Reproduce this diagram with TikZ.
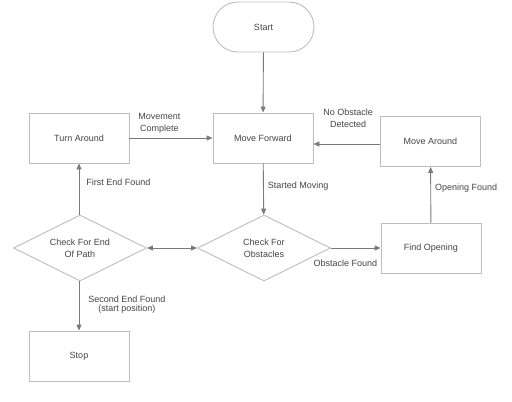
\documentclass[tikz,border=0pt]{standalone}
\usepackage{fontspec}
\setmainfont{Liberation Sans}
\usetikzlibrary{shapes.geometric,arrows.meta}
\definecolor{boxline}{HTML}{BDBDBD}
\definecolor{arrline}{HTML}{7A7A7A}
\definecolor{txt}{HTML}{444444}
\begin{document}
\begin{tikzpicture}[x=1pt,y=-1pt,
  every node/.style={text=txt, font=\fontsize{9}{12}\selectfont},
  box/.style={draw=boxline, line width=0.9pt, rectangle, minimum width=100pt, minimum height=50pt, inner sep=0pt},
  term/.style={draw=boxline, line width=0.9pt, rectangle, rounded corners=25pt, minimum width=101pt, minimum height=50pt, inner sep=0pt},
  decision/.style={draw=boxline, line width=0.9pt, diamond, aspect=2, minimum width=133pt, minimum height=66pt, inner sep=0pt, align=center},
  arr/.style={draw=arrline, line width=0.9pt, -{Triangle[length=6pt,width=5pt]}},
  darr/.style={draw=arrline, line width=0.9pt, {Triangle[length=6pt,width=5pt]}-{Triangle[length=6pt,width=5pt]}},
  lbl/.style={align=center, inner sep=1pt}
]
\useasboundingbox (0,0) rectangle (512,402);
\node[term] (start) at (263.5,27) {Start};
\node[box] (mf) at (263,138) {Move Forward};
\node[box] (turn) at (79,138) {Turn Around};
\node[box] (ma) at (430.5,141.5) {Move Around};
\node[decision] (cfo) at (264,248) {Check For\\Obstacles};
\node[decision] (cfe) at (80,248) {Check For End\\Of Path};
\node[box] (fo) at (431,248) {Find Opening};
\node[box] (stop) at (79,356) {Stop};

\draw[arr] (start) -- (mf);
\draw[arr] (turn) -- node[lbl, pos=0.36, above, yshift=3pt] {Movement\\Complete} (mf);
\draw[arr] (ma.west |- 0,144) -- node[lbl, pos=0.48, above, yshift=15pt] {No Obstacle\\Detected} (mf.east |- 0,144);
\draw[arr] (mf) -- node[lbl, pos=0.45, right, xshift=3pt] {Started Moving} (cfo);
\draw[arr] (cfo) -- node[lbl, pos=0.29, below, yshift=-11pt] {Obstacle Found} (fo);
\draw[arr] (fo) -- node[lbl, pos=0.61, right, xshift=3pt] {Opening Found} (ma);
\draw[darr] (cfe) -- (cfo);
\draw[arr] (cfe.north -| turn) -- node[lbl, pos=0.63, right, xshift=6pt] {First End Found} (turn);
\draw[arr] (cfe.south -| stop) -- node[lbl, pos=0.44, right, xshift=8pt, yshift=-2pt, font=\fontsize{9}{9}\selectfont] {Second End Found\\(start position)} (stop);
\end{tikzpicture}
\end{document}
